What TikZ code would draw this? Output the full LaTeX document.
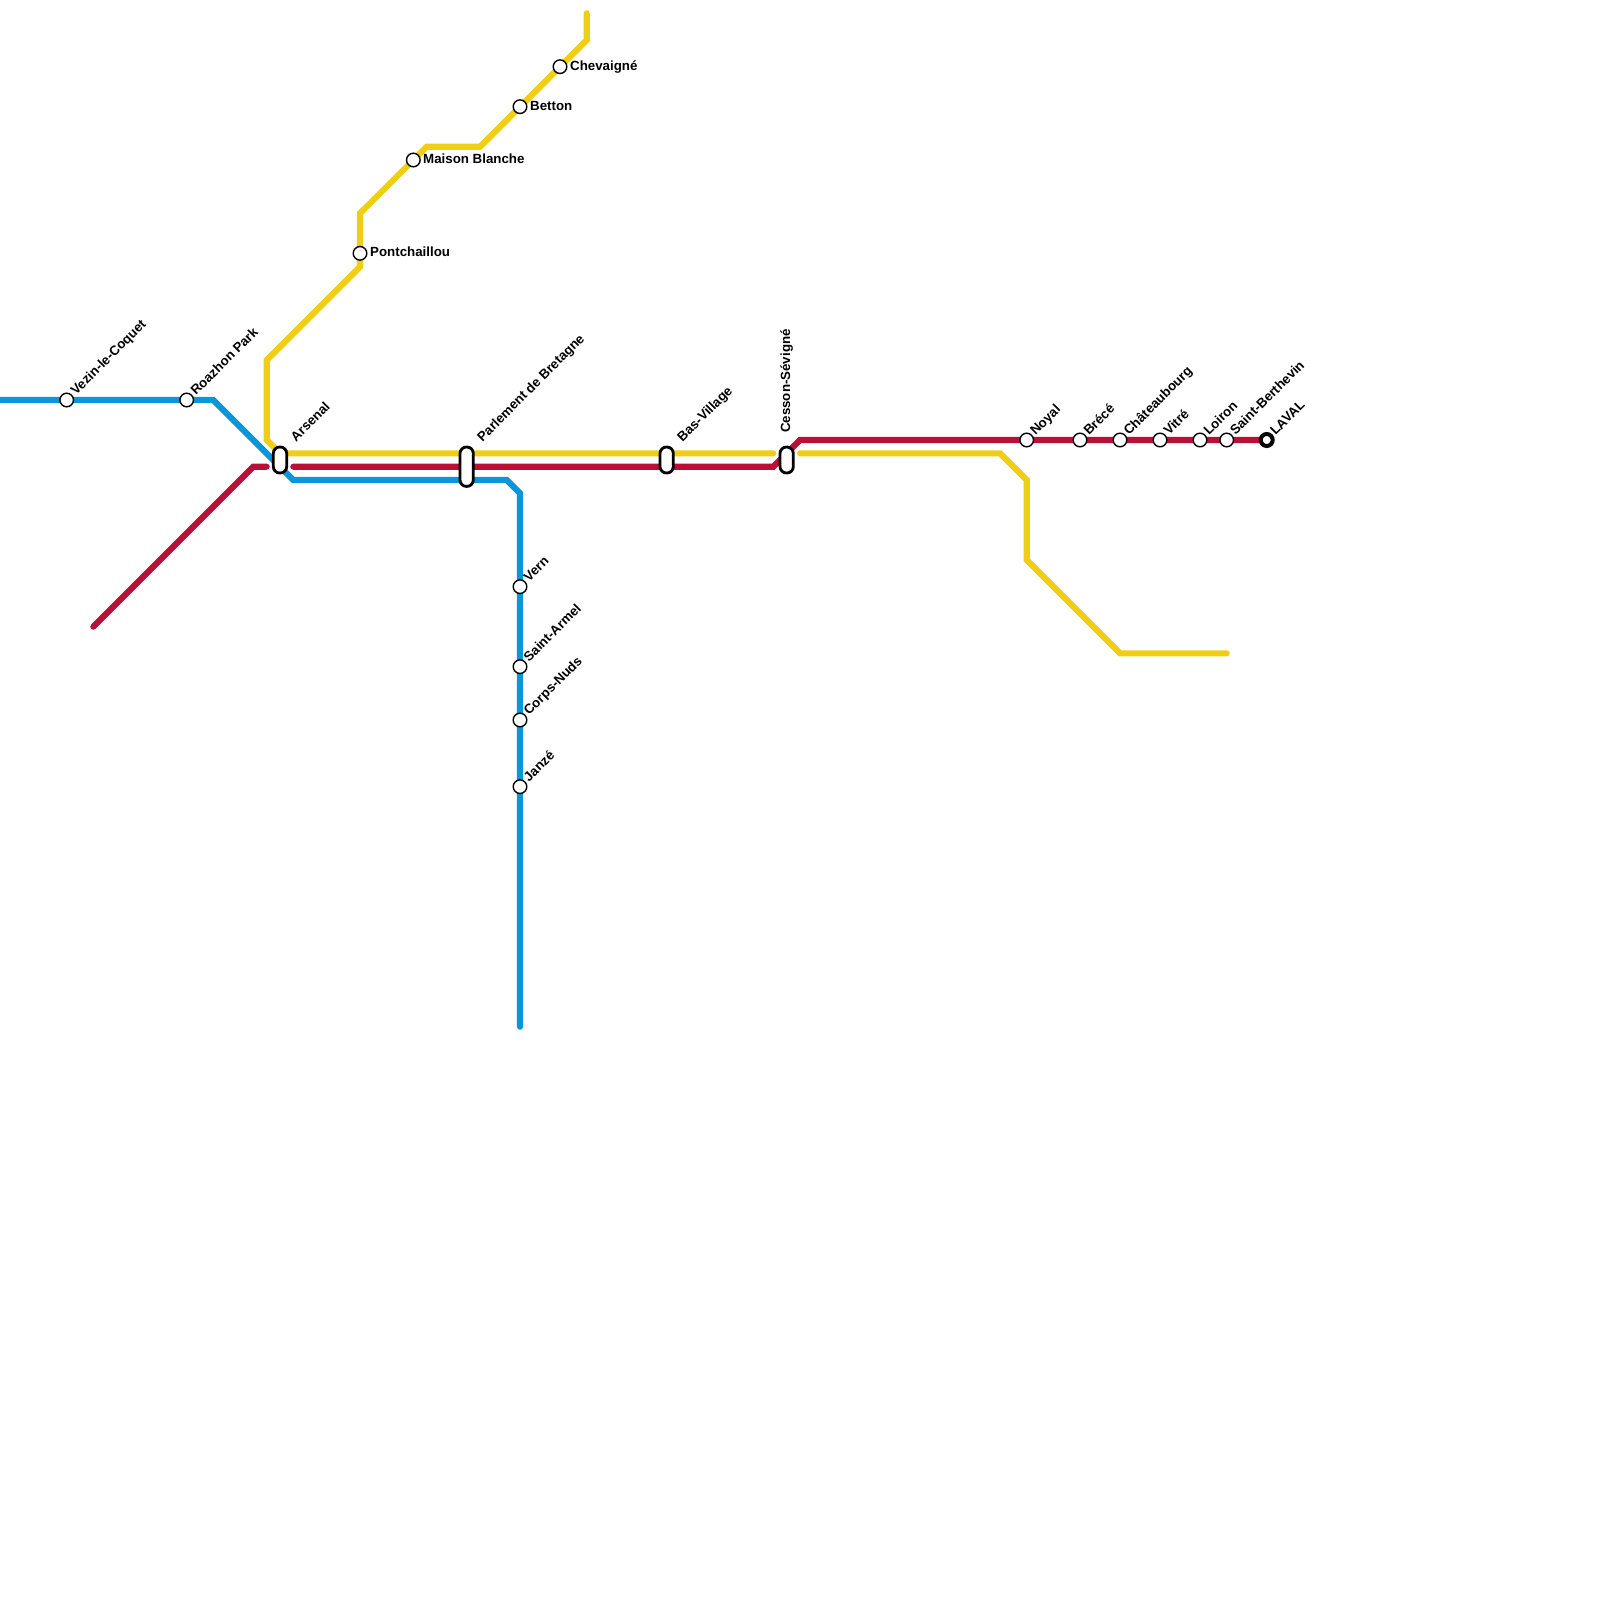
\documentclass[tikz,border=0pt]{standalone}
\usepackage{fontspec}
\setmainfont{Liberation Sans}
\pgfdeclarelayer{lines}
\pgfsetlayers{lines,main}
\definecolor{lblue}{HTML}{0A97DA}
\definecolor{lred}{HTML}{BA1037}
\definecolor{lyellow}{HTML}{F0CE15}
\tikzset{
  x=1pt,y=-1pt,
  metro/.style={line width=6.1pt,line join=miter,line cap=round},
  stn/.style={circle,draw=black,fill=white,line width=1.4pt,minimum size=13.6pt,inner sep=0pt},
  term/.style={circle,draw=black,fill=white,line width=4pt,minimum size=12pt,inner sep=0pt},
  lab/.style={font=\bfseries\fontsize{13.3pt}{15pt}\selectfont,inner sep=0pt,anchor=west,text=black,text height=9.5pt,text depth=2.5pt},
  dlab/.style={lab,rotate=45},
  ilab/.style={draw=black,fill=white,line width=2.8pt,rounded corners=6.4pt},
}
\begin{document}
\begin{tikzpicture}
\useasboundingbox (0,0) rectangle (1600,1600);
% stations
\node[stn] (vezin) at (66.7,400) {};
\node[stn] (roazhon) at (186.7,400) {};
\node[stn] (pontch) at (360,253.3) {};
\node[stn] (maison) at (413.3,160) {};
\node[stn] (betton) at (520,106.7) {};
\node[stn] (chev) at (560,66.7) {};
\node[stn] (vern) at (520,586.7) {};
\node[stn] (armel) at (520,666.7) {};
\node[stn] (corps) at (520,720) {};
\node[stn] (janze) at (520,786.7) {};
\node[stn] (noyal) at (1026.7,440) {};
\node[stn] (brece) at (1080,440) {};
\node[stn] (chat) at (1120,440) {};
\node[stn] (vitre) at (1160,440) {};
\node[stn] (loiron) at (1200,440) {};
\node[stn] (berth) at (1226.7,440) {};
\node[term] (laval) at (1266.7,440) {};
% interchanges
\filldraw[ilab] (273.3,447) rectangle (286.7,473) node[midway] (arsenal) {};
\filldraw[ilab] (460,447) rectangle (473.3,486.4) node[midway] (parl) {};
\filldraw[ilab] (660,447) rectangle (673.3,473) node[midway] (basv) {};
\filldraw[ilab] (780,447) rectangle (793.3,473) node[midway] (cesson) {};
% labels
\node[dlab] (lvezin) at (73.5,393.5) {Vezin-le-Coquet};
\node[dlab] (lroazhon) at (193.5,393.5) {Roazhon Park};
\node[dlab] (larsenal) at (293.5,440) {Arsenal};
\node[dlab] (lparl) at (480,440) {Parlement de Bretagne};
\node[dlab] (lbasv) at (680,440) {Bas-Village};
\node[lab,rotate=90] (lcesson) at (786.7,433) {Cesson-Sévigné};
\node[lab] (lpontch) at (370,253.2) {Pontchaillou};
\node[lab] (lmaison) at (423,159.9) {Maison Blanche};
\node[lab] (lbetton) at (530,106.6) {Betton};
\node[lab] (lchev) at (570,66.6) {Chevaigné};
\node[dlab] (lvern) at (526.5,580) {Vern};
\node[dlab] (larmel) at (526.5,660) {Saint-Armel};
\node[dlab] (lcorps) at (526.5,713.5) {Corps-Nuds};
\node[dlab] (ljanze) at (526.5,780) {Janzé};
\node[dlab] (lnoyal) at (1033,433.5) {Noyal};
\node[dlab] (lbrece) at (1086.5,433.5) {Brécé};
\node[dlab] (lchat) at (1126.5,433.5) {Châteaubourg};
\node[dlab] (lvitre) at (1166.5,433.5) {Vitré};
\node[dlab] (lloiron) at (1206.5,433.5) {Loiron};
\node[dlab] (lberth) at (1233,433.5) {Saint-Berthevin};
\node[dlab] (llaval) at (1273,433.5) {LAVAL};
% route ends and bends
\coordinate (b0) at (0,400);
\coordinate (b1) at (213.3,400);
\coordinate (b2) at (293.3,480);
\coordinate (b3) at (506.7,480);
\coordinate (b4) at (520,493.3);
\coordinate (b5) at (520,1026.7);
\coordinate (r0) at (93.3,626.7);
\coordinate (r1) at (253.3,466.7);
\coordinate (r2) at (266.7,466.7);
\coordinate (r3) at (293.3,466.7);
\coordinate (r4) at (773.3,466.7);
\coordinate (r5) at (800,440);
\coordinate (y0) at (586.7,13.3);
\coordinate (y1) at (586.7,40);
\coordinate (y2) at (480,146.7);
\coordinate (y3) at (426.7,146.7);
\coordinate (y4) at (360,213.3);
\coordinate (y5) at (360,266.7);
\coordinate (y6) at (266.7,360);
\coordinate (y7) at (266.7,440);
\coordinate (y8) at (280,453.3);
\coordinate (y9) at (773.3,453.3);
\coordinate (y10) at (800,453.3);
\coordinate (y11) at (1000,453.3);
\coordinate (y12) at (1026.7,480);
\coordinate (y13) at (1026.7,560);
\coordinate (y14) at (1120,653.3);
\coordinate (y15) at (1226.7,653.3);
\begin{pgfonlayer}{lines}
\draw[metro,lblue] (b0) -- (vezin.center) -- (roazhon.center) -- (b1) -- (b2) -- (b3) -- (b4) -- (vern.center) -- (armel.center) -- (corps.center) -- (janze.center) -- (b5);
\draw[metro,lred] (r0) -- (r1) -- (r2);
\draw[metro,lred] (r3) -- (r4) -- (r5) -- (noyal.center) -- (brece.center) -- (chat.center) -- (vitre.center) -- (loiron.center) -- (berth.center) -- (laval.center);
\draw[metro,lyellow] (y0) -- (y1) -- (y2) -- (y3) -- (y4) -- (y5) -- (y6) -- (y7) -- (y8) -- (y9);
\draw[metro,lyellow] (y10) -- (y11) -- (y12) -- (y13) -- (y14) -- (y15);
\end{pgfonlayer}
\end{tikzpicture}
\end{document}
